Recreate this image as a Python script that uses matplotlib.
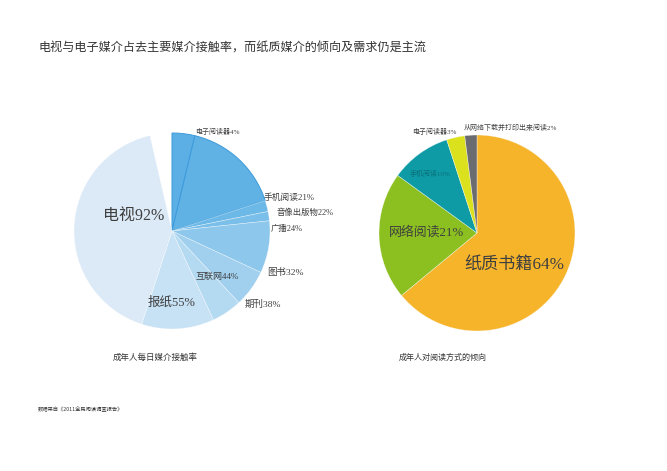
import numpy as np
import matplotlib.pyplot as plt

plt.rcParams['font.family'] = ['Noto Sans CJK SC', 'DejaVu Sans']

# ---------------------------------------------------------------
# data
# ---------------------------------------------------------------
title = "电视与电子媒介占去主要媒介接触率，而纸质媒介的倾向及需求仍是主流"
source = "数据来自《2011全民阅读调查报告》"

# left pie: daily media contact rate (the labels) and the slice sizes as drawn (degrees)
media_names = ["电子阅读器", "手机阅读", "音像出版物", "广播", "图书", "期刊", "互联网", "报纸", "电视"]
media_rates = [4, 21, 22, 24, 32, 38, 44, 55, 92]
media_drawn = [13.5, 58.5, 6.5, 5.5, 31, 22, 18, 43, 149]
media_gap = 13
media_colors = ["#5cafe4", "#60b1e4", "#6cb8e7", "#7abfe9", "#8dc7eb", "#a1d0ef",
                "#b4daf2", "#c8e2f5", "#dceaf7"]

# right pie: preferred way of reading
read_names = ["纸质书籍", "网络阅读", "手机阅读", "电子阅读器", "从网络下载并打印出来阅读"]
read_share = [64, 21, 10, 3, 2]
read_colors = ["#f6b42b", "#8cc021", "#0e9ba6", "#dce11d", "#6b6c6f"]

H = 471
fig = plt.figure(figsize=(6.67, 4.71), dpi=100)
ax = fig.add_axes([0, 0, 1, 1])

# ---------------------------------------------------------------
# left pie
# ---------------------------------------------------------------
wedges, _ = ax.pie(media_drawn + [media_gap], colors=media_colors + ["none"],
                   startangle=90, counterclock=False, radius=98,
                   center=(172, H - 231), frame=True,
                   wedgeprops=dict(edgecolor=(1, 1, 1, 0.55), linewidth=0.4))
wedges[-1].set_edgecolor("none")
for w in wedges[:2]:
    w.set_edgecolor("#3d9bdb")
    w.set_linewidth(0.7)

lab = ["%s%d%%" % (n, v) for n, v in zip(media_names, media_rates)]
# (x, y, size) in pixels
left_pos = [(195, 131, 5), (264, 198, 6.3), (277, 213, 6), (271, 229, 6),
            (267, 272, 6.8), (245, 304, 6.8), (196, 277, 6.5), (148, 303, 9),
            (103, 216, 11.5)]
for t, (x, y, s) in zip(lab, left_pos):
    ax.text(x, H - y, t, fontsize=s, color="#3f3f3f", ha="left", va="center",
            family=["Liberation Serif", "Noto Sans CJK SC"])

# ---------------------------------------------------------------
# right pie
# ---------------------------------------------------------------
ax.pie(read_share, colors=read_colors, startangle=90, counterclock=False,
       radius=98, center=(477, H - 233), frame=True,
       wedgeprops=dict(edgecolor=(1, 1, 1, 0.6), linewidth=0.4))

lab = ["%s%d%%" % (n, v) for n, v in zip(read_names, read_share)]
right_pos = [(464, 265, 12.3, "#3f3f3f"), (389, 232, 9.3, "#3f3f3f"),
             (410, 173, 5, "#0b6f78"), (412, 131, 5, "#3f3f3f"),
             (464, 127, 5, "#3f3f3f")]
for t, (x, y, s, c) in zip(lab, right_pos):
    ax.text(x, H - y, t, fontsize=s, color=c, ha="left", va="center",
            family=["Liberation Serif", "Noto Sans CJK SC"])

# ---------------------------------------------------------------
# titles
# ---------------------------------------------------------------
ax.text(38, H - 48, title, fontsize=8.7, color="#333333", ha="left", va="center")
ax.text(155, H - 357, "成年人每日媒介接触率", fontsize=6.1, color="#333333",
        ha="center", va="center")
ax.text(443, H - 357, "成年人对阅读方式的倾向", fontsize=5.8, color="#333333",
        ha="center", va="center")
ax.text(38, H - 409, source, fontsize=3.8, color="#333333", ha="left", va="center")

ax.set_xlim(0, 667)
ax.set_ylim(0, H)
ax.set_aspect("equal")
ax.axis("off")

plt.savefig("out.png", dpi=100, facecolor="white")
